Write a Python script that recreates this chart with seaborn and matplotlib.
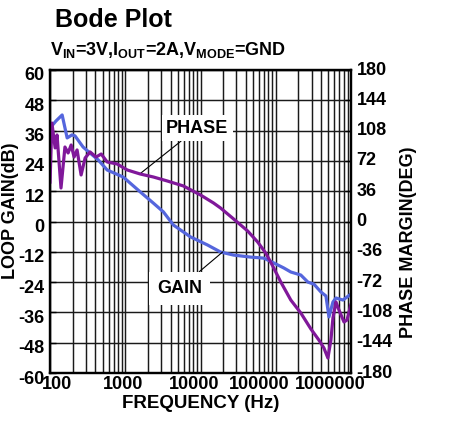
import matplotlib
matplotlib.use("Agg")
import matplotlib.pyplot as plt
import matplotlib.transforms as mtransforms
from matplotlib.ticker import FixedLocator, LogLocator, NullFormatter
import seaborn as sns

# ---- data ----
gain_freq = [100, 120, 145, 169, 196, 215, 275, 341, 437, 575, 940, 1585, 2360,
             3214, 4365, 7362, 12390, 18490, 27540, 46450, 69180, 93970, 127900,
             158500, 215300, 267300, 321400, 398100, 464500, 509300, 575400,
             631000, 781600, 885100, 1000000]
gain_db = [37.0, 39.8, 42.2, 33.1, 34.3, 33.9, 29.5, 27.1, 24.4, 20.4, 17.6, 11.7,
           7.3, 3.8, -1.4, -6.1, -9.3, -12.1, -13.3, -14.1, -14.5, -16.4, -18.4,
           -20.0, -21.2, -24.0, -24.8, -27.9, -29.5, -37.8, -31.9, -30.3, -31.1,
           -29.9, -28.7]

phase_freq = [100, 106, 117, 124, 140, 158, 174, 191, 209, 229, 259, 293, 341, 410,
              479, 575, 782, 1064, 1585, 2360, 3631, 5929, 10000, 14890, 18490,
              27540, 42360, 57540, 73620, 91200, 116700, 158500, 215300, 293100,
              374100, 436500, 493200, 540800, 575400, 631000, 691800, 807200,
              885100, 1000000]
phase_deg = [45.8, 117.0, 87.4, 102.8, 39.8, 88.5, 81.4, 90.9, 76.6, 85.0, 55.3,
             75.5, 82.6, 76.6, 80.2, 70.7, 68.3, 61.2, 56.4, 52.9, 48.1, 42.2, 31.5,
             22.0, 16.0, 3.0, -11.3, -24.4, -37.5, -52.9, -71.9, -93.3, -108.7,
             -127.7, -140.8, -150.3, -162.2, -140.8, -114.7, -95.6, -105.1, -119.4,
             -117.0, -98.0]

x_ticks = [100, 1000, 10000, 100000, 1000000]
x_tick_labels = ["100", "1000", "10000", "100000", "1000000"]
gain_ticks = [60, 48, 36, 24, 12, 0, -12, -24, -36, -48, -60]
phase_ticks = [180, 144, 108, 72, 36, 0, -36, -72, -108, -144, -180]

GAIN_COLOR = "#5566dd"
PHASE_COLOR = "#80189a"
GRID_COLOR = "#1a1a1a"

# ---- style ----
sns.set_style("white")
plt.rcParams["font.family"] = ["Liberation Sans", "DejaVu Sans"]
plt.rcParams["font.weight"] = "bold"
plt.rcParams["text.color"] = "black"
plt.rcParams["axes.labelcolor"] = "black"
plt.rcParams["xtick.color"] = "black"
plt.rcParams["ytick.color"] = "black"
plt.rcParams["axes.unicode_minus"] = False
plt.rcParams["mathtext.fontset"] = "custom"
plt.rcParams["mathtext.rm"] = "Liberation Sans:bold"
plt.rcParams["mathtext.bf"] = "Liberation Sans:bold"
plt.rcParams["mathtext.it"] = "Liberation Sans:bold"

fig = plt.figure(figsize=(4.5, 4.3), dpi=100)
ax = fig.add_axes([50 / 450, 1 - 373 / 430, 301 / 450, 303 / 430])
ax2 = ax.twinx()

sns.lineplot(x=gain_freq, y=gain_db, ax=ax, color=GAIN_COLOR, lw=2.3,
             sort=False, estimator=None)
sns.lineplot(x=phase_freq, y=phase_deg, ax=ax2, color=PHASE_COLOR, lw=2.3,
             sort=False, estimator=None)

for a in (ax, ax2):
    a.set_xscale("log")
    a.set_xlim(100, 1e6)
ax.set_ylim(-60, 60)
ax2.set_ylim(-180, 180)

ax.xaxis.set_major_locator(FixedLocator(x_ticks))
ax.set_xticklabels(x_tick_labels)
ax.xaxis.set_minor_locator(LogLocator(base=10, subs=range(2, 10), numticks=20))
ax.xaxis.set_minor_formatter(NullFormatter())
ax.set_yticks(gain_ticks)
ax.set_yticklabels([str(v) for v in gain_ticks])
ax2.set_yticks(phase_ticks)
ax2.set_yticklabels([str(v) for v in phase_ticks])

ax.set_axisbelow(True)
ax.grid(True, axis="x", which="both", color=GRID_COLOR, lw=1.05)
ax.grid(True, axis="y", which="major", color=GRID_COLOR, lw=1.05)
ax2.grid(False)

for a in (ax, ax2):
    for s in a.spines.values():
        s.set_color("black")
        s.set_linewidth(1.6)

ax.tick_params(axis="x", which="major", direction="in", length=4, labelsize=13,
               pad=2, width=1, colors="black")
ax.tick_params(axis="x", which="minor", direction="in", length=3, width=0.8)
ax.tick_params(axis="y", direction="in", length=4, labelsize=13, pad=4, width=1,
               colors="black")
ax2.tick_params(axis="y", direction="in", length=4, labelsize=13, pad=4, width=1,
                colors="black")

ax.set_xlabel("FREQUENCY (Hz)", fontsize=13.5, fontweight="bold", color="black")
ax.set_ylabel("LOOP GAIN(dB)", fontsize=13, fontweight="bold", color="black")
ax2.set_ylabel("PHASE MARGIN(DEG)", fontsize=13, fontweight="bold", color="black")
ax.xaxis.set_label_coords(0.502, -0.072)
ax.yaxis.set_label_coords(-0.103, 0.535)
ax2.yaxis.set_label_coords(1.163, 0.432)

# annotations
ax.annotate("PHASE", xy=(1585, 19.0), xytext=(9100, 37.0), fontsize=13,
            fontweight="bold", ha="center", va="center", color="black",
            bbox=dict(boxstyle="square,pad=0.25", fc="white", ec="none"),
            arrowprops=dict(arrowstyle="-", color="black", lw=0.8,
                            shrinkA=0, shrinkB=0), zorder=5)
ax.annotate("GAIN", xy=(19650, -12.1), xytext=(5250, -26.5), fontsize=13,
            fontweight="bold", ha="center", va="center", color="black",
            bbox=dict(boxstyle="square,pad=0.45", fc="white", ec="none"),
            arrowprops=dict(arrowstyle="-", color="black", lw=0.8,
                            shrinkA=0, shrinkB=0), zorder=5)

# titles
fig.text(55 / 450, 1 - 27 / 430, "Bode Plot", fontsize=18, fontweight="bold",
         ha="left", va="baseline", color="black")
fig.text(50 / 450, 1 - 55 / 430,
         r"V$_{\mathbf{IN}}$=3V,I$_{\mathbf{OUT}}$=2A,V$_{\mathbf{MODE}}$=GND",
         fontsize=13, fontweight="bold", ha="left", va="baseline", color="black")

# shift tick labels like the reference
fig.canvas.draw()
offsets_px = [7, -2, -6, -17, -21]
for lab, dx in zip(ax.get_xticklabels(), offsets_px):
    lab.set_transform(lab.get_transform() +
                      mtransforms.ScaledTranslation(dx / 100, 0, fig.dpi_scale_trans))
for lab in ax.get_yticklabels():
    lab.set_transform(lab.get_transform() +
                      mtransforms.ScaledTranslation(0, -4 / 100, fig.dpi_scale_trans))
for lab in ax2.get_yticklabels():
    lab.set_transform(lab.get_transform() +
                      mtransforms.ScaledTranslation(0, 2 / 100, fig.dpi_scale_trans))

fig.savefig("out.png", dpi=100)
